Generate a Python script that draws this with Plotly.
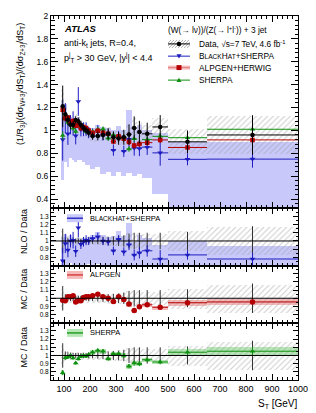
import numpy as np
import plotly.graph_objects as go

# ---------------- data ----------------
bin_edges = [90, 100, 110, 120, 130, 140, 150, 160, 170, 180, 190, 200, 220, 240,
             260, 280, 300, 320, 340, 360, 380, 400, 440, 500, 650, 1000]
data_val = [1.21, 1.14, 1.09, 1.05, 1.05, 1.09, 1.08, 1.05, 1.02, 1.00, 0.98, 0.95, 0.95,
            0.96, 0.97, 0.94, 0.93, 0.94, 0.965, 1.02, 0.985, 0.97, 1.03, 0.90, 0.96]
data_stat_rel = [0.15, 0.05, 0.04, 0.035, 0.03, 0.03, 0.03, 0.03, 0.03, 0.03, 0.035, 0.035, 0.04,
                 0.045, 0.05, 0.055, 0.06, 0.07, 0.09, 0.10, 0.10, 0.10, 0.10, 0.11, 0.18]
data_tot_rel = [0.12, 0.07, 0.06, 0.055, 0.05, 0.05, 0.05, 0.05, 0.05, 0.05, 0.05, 0.05, 0.05,
                0.055, 0.06, 0.06, 0.065, 0.07, 0.09, 0.09, 0.09, 0.08, 0.08, 0.12, 0.17]
# BlackHat+Sherpa (NLO) / Data
nlo_ratio = [0.76, 0.97, 0.89, 1.00, 1.01, 0.875, 1.16, 0.96, 0.99, 1.01, 1.00, 1.03, 1.05,
             1.00, 0.99, 0.88, 1.02, 0.87, 0.955, 0.83, 0.855, 0.88, 0.78, 0.83, 0.78]
nlo_stat_rel = [0.20, 0.12, 0.10, 0.08, 0.10, 0.08, 0.10, 0.06, 0.06, 0.06, 0.05, 0.04, 0.05,
                0.05, 0.05, 0.06, 0.05, 0.06, 0.07, 0.08, 0.08, 0.08, 0.14, 0.07, 0.10]
nlo_band_lo = [0.57, 0.72, 0.68, 0.76, 0.74, 0.72, 0.74, 0.74, 0.72, 0.70, 0.70, 0.66, 0.68,
               0.62, 0.64, 0.60, 0.64, 0.60, 0.63, 0.60, 0.62, 0.58, 0.44, 0.20, 0.20]
nlo_band_hi = [1.27, 1.23, 1.12, 1.12, 1.10, 1.10, 1.12, 1.06, 1.05, 1.04, 1.03, 1.02, 1.05,
               1.03, 1.02, 1.00, 1.04, 1.00, 1.18, 1.00, 1.05, 1.00, 0.98, 0.90, 0.90]
# ALPGEN+HERWIG / Data
alp_ratio = [0.975, 0.97, 1.02, 1.02, 1.03, 0.955, 0.97, 0.97, 1.01, 1.02, 1.02, 1.03, 1.05,
             1.02, 1.00, 0.96, 1.02, 0.985, 0.93, 0.85, 0.895, 0.92, 0.89, 0.945, 0.955]
alp_stat_rel = [0.03, 0.025, 0.02, 0.02, 0.02, 0.02, 0.02, 0.02, 0.02, 0.02, 0.02, 0.02, 0.02,
                0.02, 0.02, 0.025, 0.025, 0.025, 0.03, 0.03, 0.03, 0.03, 0.03, 0.035, 0.04]
# SHERPA / Data
she_ratio = [0.79, 0.972, 0.98, 1.00, 0.97, 0.908, 0.96, 0.988, 1.00, 0.99, 1.012, 1.04, 1.06,
             1.052, 0.96, 1.02, 1.02, 1.00, 0.868, 0.908, 0.90, 0.948, 0.92, 1.04, 1.052]
she_stat_rel = [0.04, 0.02, 0.02, 0.02, 0.02, 0.02, 0.02, 0.02, 0.02, 0.02, 0.02, 0.025, 0.025,
                0.025, 0.025, 0.025, 0.025, 0.03, 0.03, 0.035, 0.035, 0.03, 0.03, 0.045, 0.05]

x_ticks = [100, 200, 300, 400, 500, 600, 700, 800, 900, 1000]
top_ticks = [0.4, 0.6, 0.8, 1.0, 1.2, 1.4, 1.6, 1.8, 2.0]
top_ticktext = ['0.4', '0.6', '0.8', '1', '1.2', '1.4', '1.6', '1.8', '2']
rat_ticks = [0.8, 0.9, 1.0, 1.1, 1.2, 1.3]
rat_ticktext = ['0.8', '0.9', '1', '1.1', '1.2', '1.3']

# ---------------- derived ----------------
edges = np.array(bin_edges, float)
xc = (edges[:-1] + edges[1:]) / 2
wd = edges[1:] - edges[:-1]
hw = wd / 2
dv = np.array(data_val)
dst = np.array(data_stat_rel)
dto = np.array(data_tot_rel)
nr = np.array(nlo_ratio); ns = np.array(nlo_stat_rel)
nlo_lo = np.array(nlo_band_lo); nlo_hi = np.array(nlo_band_hi)
ar = np.array(alp_ratio); ast = np.array(alp_stat_rel)
sr = np.array(she_ratio); sst = np.array(she_stat_rel)

BLUE = '#1c1cc0'
BLUE_B = '#c8c8fa'
RED = '#b40000'
RED_B = '#f6baba'
GREEN = '#109010'
GREEN_B = '#b6e8b6'
HATCH = '#9a9a9a'
FONT = 'Liberation Sans'

# page body has an 8px margin: figure is placed at (8, 8) in the window
OFF = 8
W, H = 316 - OFF, 413 - OFF
L, R, T, B = 51 - OFF, 18, 11 - OFF, 33
PW = W - L - R
PH = H - T - B


def fx(px):  # window px -> paper
    return (px - OFF - L) / PW


def fy(py):
    return (H - B - (py - OFF)) / PH


d_top = [fy(205.8), 1.0]
d_r1 = [fy(264.0), fy(205.8)]
d_r2 = [fy(322.0), fy(264.0)]
d_r3 = [0.0, fy(322.0)]

fig = go.Figure()


def hatch_bar(xa, ya, base, height):
    return go.Bar(x=xc, y=height, base=base, width=wd, xaxis=xa, yaxis=ya,
                  marker=dict(color='rgba(0,0,0,0)', line=dict(width=0),
                              pattern=dict(shape='/', fgcolor=HATCH, bgcolor='rgba(0,0,0,0)',
                                           size=4, solidity=0.25)),
                  showlegend=False, hoverinfo='skip')


def band_bar(xa, ya, base, height, color):
    return go.Bar(x=xc, y=height, base=base, width=wd, xaxis=xa, yaxis=ya,
                  marker=dict(color=color, line=dict(width=0)),
                  showlegend=False, hoverinfo='skip')


def pts(xa, ya, y, ey, color, symbol, size=5, ex=True, ecolor=None):
    return go.Scatter(x=xc, y=y, xaxis=xa, yaxis=ya, mode='markers',
                      marker=dict(color=color, symbol=symbol, size=size, line=dict(width=0)),
                      error_x=dict(type='data', array=hw if ex else np.zeros_like(hw),
                                   color=ecolor or color, thickness=1, width=0),
                      error_y=dict(type='data', array=ey, color=ecolor or color,
                                   thickness=1, width=0),
                      showlegend=False, hoverinfo='skip')


# ---- top panel ----
fig.add_trace(band_bar('x', 'y', nlo_lo, nlo_hi - nlo_lo, BLUE_B))
fig.add_trace(hatch_bar('x', 'y', dv * (1 - dto), 2 * dv * dto))
fig.add_trace(pts('x', 'y', dv * nr, dv * nr * ns, BLUE, 'triangle-down', 5))
fig.add_trace(pts('x', 'y', dv * sr, dv * sr * sst, GREEN, 'triangle-up', 5))
fig.add_trace(pts('x', 'y', dv * ar, dv * ar * ast, RED, 'square', 4.5))
fig.add_trace(pts('x', 'y', dv, dv * dst, 'black', 'circle', 4.5))

# ---- ratio panel 1: NLO / Data ----
fig.add_trace(band_bar('x2', 'y2', nlo_lo / dv, (nlo_hi - nlo_lo) / dv, BLUE_B))
fig.add_trace(hatch_bar('x2', 'y2', 1 - dto, 2 * dto))
fig.add_trace(pts('x2', 'y2', np.ones_like(dv), dst, 'rgba(0,0,0,0)', 'circle', 1,
                  ex=False, ecolor='#333333'))
fig.add_trace(pts('x2', 'y2', nr, nr * ns, BLUE, 'triangle-down', 5))

# ---- ratio panel 2: ALPGEN / Data ----
fig.add_trace(band_bar('x3', 'y3', ar * (1 - ast), 2 * ar * ast, RED_B))
fig.add_trace(hatch_bar('x3', 'y3', 1 - dto, 2 * dto))
fig.add_trace(pts('x3', 'y3', np.ones_like(dv), dst, 'rgba(0,0,0,0)', 'circle', 1,
                  ex=False, ecolor='#333333'))
fig.add_trace(pts('x3', 'y3', ar, np.zeros_like(ar), RED, 'circle', 5.5))

# ---- ratio panel 3: SHERPA / Data ----
fig.add_trace(band_bar('x4', 'y4', sr * (1 - sst), 2 * sr * sst, GREEN_B))
fig.add_trace(hatch_bar('x4', 'y4', 1 - dto, 2 * dto))
fig.add_trace(pts('x4', 'y4', np.ones_like(dv), dst, 'rgba(0,0,0,0)', 'circle', 1,
                  ex=False, ecolor='#333333'))
fig.add_trace(pts('x4', 'y4', sr, sr * sst, GREEN, 'triangle-up', 5))

# ---------------- axes ----------------
def xax(anchor, labels):
    d = dict(range=[50, 1000], anchor=anchor, showline=True, linecolor='black', linewidth=1,
             mirror='ticks', ticks='inside', ticklen=6, tickcolor='black', tickwidth=1,
             tickmode='array', tickvals=x_ticks, showgrid=False, zeroline=False,
             minor=dict(ticks='inside', ticklen=3, tickcolor='black', dtick=20, tick0=0,
                        showgrid=False),
             showticklabels=labels, tickfont=dict(family=FONT, size=9, color='black'),
             ticklabeloverflow='allow', domain=[0, 1])
    if anchor != 'y':
        d['matches'] = 'x'
    return d


def yax(anchor, dom, rng, tv, tt, minor, size, tl):
    return dict(domain=dom, range=rng, anchor=anchor, showline=True, linecolor='black',
                linewidth=1, mirror='ticks', ticks='inside', ticklen=tl, tickcolor='black',
                tickwidth=1, tickmode='array', tickvals=tv, ticktext=tt, showgrid=False,
                zeroline=False, ticklabeloverflow='allow',
                minor=dict(ticks='inside', ticklen=tl / 2, tickcolor='black', dtick=minor,
                           tick0=0, showgrid=False),
                tickfont=dict(family=FONT, size=size, color='black'))


fig.update_layout(
    width=W, height=H, margin=dict(l=L, r=R, t=T, b=B),
    paper_bgcolor='white', plot_bgcolor='white', barmode='overlay', bargap=0,
    showlegend=False,
    font=dict(family=FONT, color='black'),
    xaxis=xax('y', False), xaxis2=xax('y2', False), xaxis3=xax('y3', False),
    xaxis4=xax('y4', True),
    yaxis=yax('x', d_top, [0.32, 2.0], top_ticks, top_ticktext, 0.04, 8.5, 7),
    yaxis2=yax('x2', d_r1, [0.7, 1.4], rat_ticks, rat_ticktext, 0.05, 6.5, 5),
    yaxis3=yax('x3', d_r2, [0.7, 1.4], rat_ticks, rat_ticktext, 0.05, 6.5, 5),
    yaxis4=yax('x4', d_r3, [0.7, 1.4], rat_ticks, rat_ticktext, 0.05, 6.5, 5),
)

shapes = []
# unity lines in ratio panels
for xa, ya in [('x2', 'y2'), ('x3', 'y3'), ('x4', 'y4')]:
    shapes.append(dict(type='line', xref=xa + ' domain', yref=ya, x0=0, x1=1, y0=1, y1=1,
                       line=dict(color='black', width=1), layer='above'))


def seg(x0, y0, x1, y1, color, width):
    return dict(type='line', xref='paper', yref='paper', x0=fx(x0), y0=fy(y0),
                x1=fx(x1), y1=fy(y1), line=dict(color=color, width=width), layer='above')


def rect(x0, y0, x1, y1, color):
    return dict(type='rect', xref='paper', yref='paper', x0=fx(x0), y0=fy(y1),
                x1=fx(x1), y1=fy(y0), fillcolor=color, line=dict(width=0), layer='above')


def poly(points, color):
    p = 'M ' + ' L '.join('%.5f,%.5f' % (fx(a), fy(b)) for a, b in points) + ' Z'
    return dict(type='path', xref='paper', yref='paper', path=p, fillcolor=color,
                line=dict(width=0), layer='above')


# main legend symbols
lx0, lx1 = 168, 190
lxm = (lx0 + lx1) / 2
rows = [39.3, 51.7, 63.3, 76.0]
# hatched box for data
hy0, hy1 = rows[0] - 4, rows[0] + 4
hh = hy1 - hy0
for k in np.arange(lx0 - hh, lx1, 3.0):
    a0, a1 = k, k + hh
    b0, b1 = hy1, hy0
    if a0 < lx0:
        b0 = hy1 - (lx0 - a0)
        a0 = lx0
    if a1 > lx1:
        b1 = hy0 + (a1 - lx1)
        a1 = lx1
    shapes.append(seg(a0, b0, a1, b1, HATCH, 0.8))
shapes.append(seg(lx0, rows[0], lx1, rows[0], 'black', 1))
shapes.append(dict(type='circle', xref='paper', yref='paper', x0=fx(lxm - 2.3), x1=fx(lxm + 2.3),
                   y0=fy(rows[0] + 2.3), y1=fy(rows[0] - 2.3), fillcolor='black',
                   line=dict(width=0), layer='above'))
# BlackHat
shapes.append(seg(lx0, rows[1], lx1, rows[1], BLUE, 1))
shapes.append(poly([(lxm - 2.5, rows[1] - 2), (lxm + 2.5, rows[1] - 2), (lxm, rows[1] + 2.5)], BLUE))
# ALPGEN
shapes.append(seg(lx0, rows[2], lx1, rows[2], RED_B, 4))
shapes.append(seg(lx0, rows[2], lx1, rows[2], '#e08080', 1))
shapes.append(rect(lxm - 2.5, rows[2] - 2.5, lxm + 2.5, rows[2] + 2.5, RED))
# SHERPA
shapes.append(seg(lx0, rows[3], lx1, rows[3], GREEN, 1))
shapes.append(poly([(lxm - 2.5, rows[3] + 2), (lxm + 2.5, rows[3] + 2), (lxm, rows[3] - 2.5)], GREEN))

# ratio panel legends
for yy, band, col in [(216.0, BLUE_B, BLUE), (273.5, RED_B, '#d03030'), (332.3, GREEN_B, GREEN)]:
    shapes.append(rect(67, yy - 4, 83, yy + 4, band))
    shapes.append(seg(67, yy, 83, yy, col, 1.3))

fig.update_layout(shapes=shapes)

SC = "<span style='font-size:6.6px'>"
ann = []


def txt(px, py, text, size, xanchor='left', angle=0, yanchor='middle'):
    ann.append(dict(x=fx(px), y=fy(py), xref='paper', yref='paper', text=text, showarrow=False,
                    xanchor=xanchor, yanchor=yanchor, textangle=angle,
                    font=dict(family=FONT, size=size, color='black')))


txt(62, 24, '<b><i>ATLAS</i></b>', 9.5)
txt(62, 38.5, 'anti-k<sub>t</sub> jets, R=0.4,', 9)
txt(62, 53, 'p<sup>j</sup><sub>T</sub> &gt; 30 GeV, |y<sup>j</sup>| &lt; 4.4', 9)
txt(166, 25, '(W(\u2192 l\u03bd))/(Z(\u2192 l<sup>+</sup>l<sup>-</sup>)) + 3 jet', 8.3)
txt(197, rows[0], 'Data, \u221as=7 TeV, 4.6 fb<sup>-1</sup>', 8.3)
txt(197, rows[1], 'B' + SC + 'LACK</span>H' + SC + 'AT</span>+SHERPA', 8.3)
txt(197, rows[2], 'ALPGEN+HERWIG', 8.3)
txt(197, rows[3], 'SHERPA', 8.3)
txt(88, 216.0, 'B' + SC + 'LACK</span>H' + SC + 'AT</span>+SHERPA', 7.5)
txt(88, 273.5, 'ALPGEN', 7.5)
txt(88, 332.3, 'SHERPA', 7.5)

txt(21, 80, '(1/R<sub>3j</sub>)(d\u03c3<sub>W+3j</sub>/dS<sub>T</sub>)/(d\u03c3<sub>Z+3j</sub>/dS<sub>T</sub>)',
    9, xanchor='center', angle=-90)
txt(24, 230, 'NLO / Data', 9, xanchor='center', angle=-90)
txt(24, 288, 'MC / Data', 9, xanchor='center', angle=-90)
txt(24, 347, 'MC / Data', 9, xanchor='center', angle=-90)
txt(300, 396, 'S<sub>T</sub> [GeV]', 10, xanchor='right', yanchor='top')

fig.update_layout(annotations=ann)

fig.write_html('out.html')
